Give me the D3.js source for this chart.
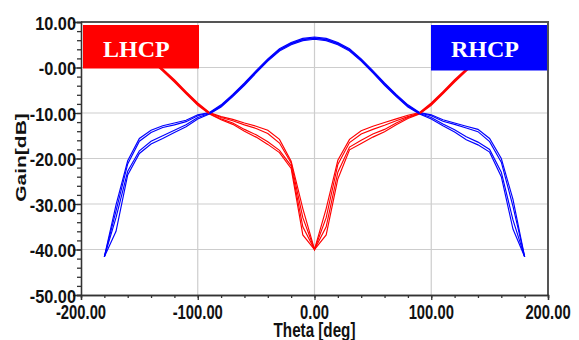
<!DOCTYPE html>
<html><head><meta charset="utf-8">
<script src="https://cdn.jsdelivr.net/npm/d3@7"></script>
<style>body{margin:0;background:#fff}svg{display:block}</style>
</head><body><svg id="c" width="579" height="340"></svg>
<script>
// ---- data ----
const theta = [-180,-170,-160,-150,-140,-130,-120,-110,-100,-90,-80,-70,-60,-50,-40,-30,-20,-10,0,
               10,20,30,40,50,60,70,80,90,100,110,120,130,140,150,160,170,180];

const rhcpA = [-41.6,-30.2,-20.5,-15.6,-13.8,-12.8,-12.2,-11.6,-10.4,-9.9,-8.2,-5.9,-3.4,-0.7,1.9,4.1,5.5,6.4,6.7,
               6.4,5.5,4.1,1.9,-0.7,-3.4,-5.9,-8.2,-9.9,-10.4,-11.5,-12.2,-12.9,-13.6,-15.6,-20.0,-29.0,-41.6];
const rhcpB = [-41.6,-31.5,-21.2,-16.2,-14.3,-13.2,-12.6,-11.9,-10.6,-10.0,-8.4,-6.1,-3.6,-0.9,1.7,3.9,5.3,6.2,6.5,
               6.2,5.3,3.9,1.7,-0.9,-3.6,-6.1,-8.4,-10.0,-10.6,-11.8,-12.5,-13.3,-14.1,-16.3,-20.8,-30.5,-41.6];
const rhcpC = [-41.6,-33.0,-22.8,-18.3,-16.2,-15.0,-13.8,-12.6,-11.0,-10.1,-8.5,-6.2,-3.7,-1.0,1.6,3.8,5.2,6.1,6.4,
               6.1,5.2,3.8,1.6,-1.0,-3.7,-6.2,-8.5,-10.1,-11.0,-12.4,-13.7,-15.2,-16.4,-18.0,-23.0,-33.5,-41.6];
const rhcpD = [-41.6,-36.0,-23.6,-18.9,-16.8,-15.6,-14.3,-13.0,-11.3,-10.2,-8.7,-6.4,-3.9,-1.2,1.4,3.6,5.0,5.9,6.2,
               5.9,5.0,3.6,1.4,-1.2,-3.9,-6.4,-8.7,-10.2,-11.3,-12.8,-14.2,-15.9,-17.0,-18.6,-24.0,-35.5,-41.6];

const lhcpA = [6.7,6.3,5.3,3.9,2.0,-0.3,-2.7,-5.3,-7.8,-9.9,-10.8,-11.4,-12.2,-12.9,-13.8,-15.8,-20.6,-31.0,-40.0,
               -31.0,-20.4,-15.8,-13.9,-12.9,-12.1,-11.3,-10.5,-9.9,-7.8,-5.3,-2.7,-0.3,2.0,3.9,5.3,6.3,6.7];
const lhcpB = [6.5,6.1,5.1,3.7,1.8,-0.5,-2.9,-5.5,-8.0,-10.0,-11.0,-11.7,-12.6,-13.4,-14.5,-16.6,-21.0,-33.0,-40.0,
               -33.0,-21.3,-16.5,-14.6,-13.6,-12.7,-11.7,-10.8,-10.0,-8.0,-5.5,-2.9,-0.5,1.8,3.7,5.1,6.1,6.5];
const lhcpC = [6.4,6.0,5.0,3.6,1.7,-0.6,-3.0,-5.6,-8.1,-10.1,-11.3,-12.2,-13.6,-14.8,-16.3,-18.2,-21.6,-35.0,-40.0,
               -35.0,-23.0,-17.5,-16.0,-14.6,-13.6,-12.2,-11.0,-10.1,-8.1,-5.6,-3.0,-0.6,1.7,3.6,5.0,6.0,6.4];
const lhcpD = [6.2,5.8,4.8,3.4,1.5,-0.8,-3.2,-5.8,-8.3,-10.2,-11.5,-12.5,-14.0,-15.3,-16.9,-18.7,-22.2,-36.8,-40.0,
               -36.8,-24.5,-18.1,-16.7,-15.3,-14.1,-12.6,-11.2,-10.2,-8.3,-5.8,-3.2,-0.8,1.5,3.4,4.8,5.8,6.2];

const xTicks = [-200,-100,0,100,200];
const xTickLabels = ["-200.00","-100.00","0.00","100.00","200.00"];
const yTicks = [10,0,-10,-20,-30,-40,-50];
const yTickLabels = ["10.00","-0.00","-10.00","-20.00","-30.00","-40.00","-50.00"];
const xTitle = "Theta [deg]";
const yTitle = "Gain[dB]";
const legendLabels = ["LHCP","RHCP"];

// ---- layout ----
const L = 81, R = 548, T = 22, B = 295;
const x = d3.scaleLinear().domain([-200,200]).range([L,R]);
const y = d3.scaleLinear().domain([-50,10]).range([B,T]);
const svg = d3.select("#c");
const font = "'Liberation Sans', Arial, sans-serif";

// gridlines
const g = svg.append("g");
g.selectAll("line.gx").data(xTicks.filter(v=>v>-200 && v<200)).join("line")
  .attr("x1",d=>x(d)).attr("x2",d=>x(d)).attr("y1",T).attr("y2",B)
  .attr("stroke","#cdcdcd").attr("stroke-width",1.2);
g.selectAll("line.gy").data(yTicks.filter(v=>v>-50 && v<10)).join("line")
  .attr("y1",d=>y(d)).attr("y2",d=>y(d)).attr("x1",L).attr("x2",R)
  .attr("stroke","#cdcdcd").attr("stroke-width",1.2);

// clip
svg.append("clipPath").attr("id","pc").append("rect")
  .attr("x",L).attr("y",T).attr("width",R-L).attr("height",B-T);

const line = d3.line().x((d,i)=>x(theta[i])).y(d=>y(d));
const curves = svg.append("g").attr("clip-path","url(#pc)");
const pairs = [[lhcpA,rhcpA],[lhcpB,rhcpB],[lhcpC,rhcpC],[lhcpD,rhcpD]];
pairs.forEach(([l,r])=>{
  curves.append("path").attr("d",line(l)).attr("fill","none").attr("stroke","#ff0000").attr("stroke-width",1.15);
  curves.append("path").attr("d",line(r)).attr("fill","none").attr("stroke","#0000ff").attr("stroke-width",1.15);
});

// frame (top & right)
svg.append("line").attr("x1",L).attr("x2",R+1).attr("y1",T).attr("y2",T).attr("stroke","#555").attr("stroke-width",2.2);
svg.append("line").attr("x1",R).attr("x2",R).attr("y1",T).attr("y2",B).attr("stroke","#555").attr("stroke-width",2);

// axes
const yAxis = d3.axisLeft(y).tickValues(yTicks).tickFormat("").tickSize(8);
const yMinor = d3.axisLeft(y).tickValues(d3.range(-50,10.1,2)).tickFormat("").tickSize(4);
const xAxis = d3.axisBottom(x).tickValues(xTicks).tickFormat("").tickSize(5);
const xMinor = d3.axisBottom(x).tickValues(d3.range(-200,200.1,20)).tickFormat("").tickSize(3);
[[yAxis,`translate(${L},0)`],[yMinor,`translate(${L},0)`],[xAxis,`translate(0,${B})`],[xMinor,`translate(0,${B})`]].forEach(([a,t])=>{
  const ga = svg.append("g").attr("transform",t).call(a);
  ga.selectAll("path,line").attr("stroke","#333").attr("stroke-width",1.3);
});

// tick labels
yTicks.forEach((v,i)=>{
  svg.append("text").attr("transform",`translate(${L-5},${y(v)+7.5}) scale(0.86,1)`)
    .attr("text-anchor","end").attr("font-family",font).attr("font-weight","bold")
    .attr("font-size",19).attr("fill","#111").text(yTickLabels[i]);
});
xTicks.forEach((v,i)=>{
  svg.append("text").attr("transform",`translate(${x(v)},318.5) scale(0.74,1)`)
    .attr("text-anchor","middle").attr("font-family",font).attr("font-weight","bold")
    .attr("font-size",20).attr("fill","#111").text(xTickLabels[i]);
});
svg.append("text").attr("transform",`translate(${x(0)},336.5) scale(0.78,1)`)
  .attr("text-anchor","middle").attr("font-family",font).attr("font-weight","bold")
  .attr("font-size",19.5).attr("fill","#111").text(xTitle);
svg.append("text").attr("transform",`translate(25.5,157.5) rotate(-90) scale(1,0.7)`)
  .attr("text-anchor","middle").attr("font-family",font).attr("font-weight","bold")
  .attr("font-size",21).attr("fill","#111").text(yTitle);

// legend boxes
const boxes = [
  {x0:83, x1:199, y0:25, y1:68.5, c:"#ff0000", tx:103, ty:56.7},
  {x0:431, x1:547, y0:25, y1:70.5, c:"#0000ff", tx:451, ty:57.3}
];
boxes.forEach((b,i)=>{
  svg.append("rect").attr("x",b.x0).attr("y",b.y0).attr("width",b.x1-b.x0).attr("height",b.y1-b.y0).attr("fill",b.c);
  svg.append("text").attr("x",b.tx).attr("y",b.ty).attr("font-family","'Liberation Serif','Times New Roman',serif")
    .attr("font-weight","bold").attr("font-size",24).attr("fill","#fff").text(legendLabels[i]);
});
</script></body></html>
